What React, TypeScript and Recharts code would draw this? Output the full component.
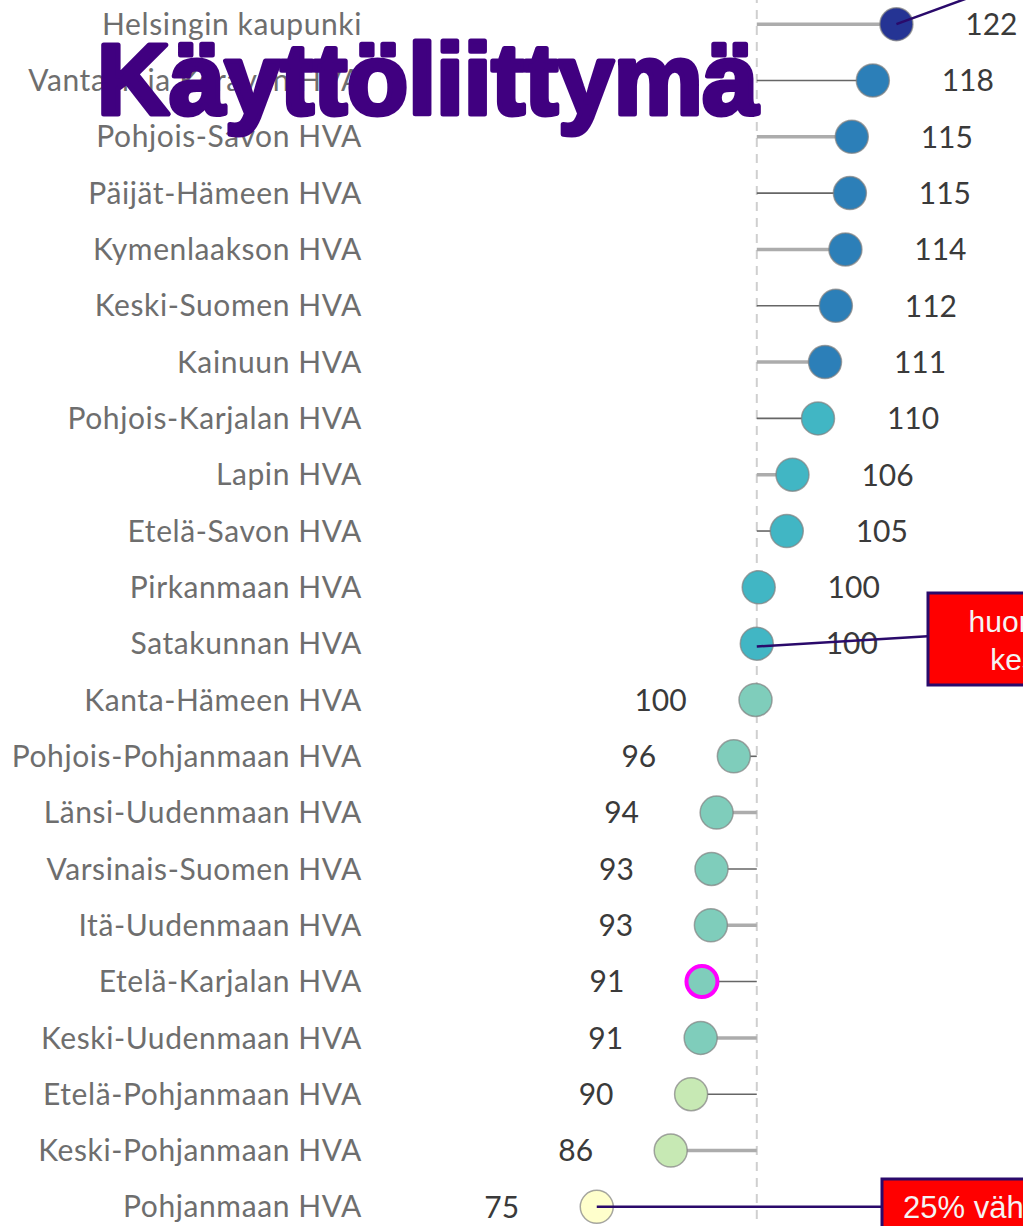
import React from 'react';
import { ScatterChart, Scatter, XAxis, YAxis, ReferenceLine } from 'recharts';

const categories = [
  'Helsingin kaupunki',
  'Vantaan ja Keravan HVA',
  'Pohjois-Savon HVA',
  'Päijät-Hämeen HVA',
  'Kymenlaakson HVA',
  'Keski-Suomen HVA',
  'Kainuun HVA',
  'Pohjois-Karjalan HVA',
  'Lapin HVA',
  'Etelä-Savon HVA',
  'Pirkanmaan HVA',
  'Satakunnan HVA',
  'Kanta-Hämeen HVA',
  'Pohjois-Pohjanmaan HVA',
  'Länsi-Uudenmaan HVA',
  'Varsinais-Suomen HVA',
  'Itä-Uudenmaan HVA',
  'Etelä-Karjalan HVA',
  'Keski-Uudenmaan HVA',
  'Etelä-Pohjanmaan HVA',
  'Keski-Pohjanmaan HVA',
  'Pohjanmaan HVA',
];

const values = [
  121.9, 118.2, 114.9, 114.6, 113.9, 112.4, 110.7, 109.6, 105.6, 104.7, 100.3,
  100.0, 99.8, 96.4, 93.7, 92.9, 92.8, 91.4, 91.2, 89.7, 86.5, 74.9,
];

const valueLabels = [
  122, 118, 115, 115, 114, 112, 111, 110, 106, 105, 100, 100, 100, 96, 94, 93, 93,
  91, 91, 90, 86, 75,
];

const dotColors = [
  '#253494', '#2c7fb8', '#2c7fb8', '#2c7fb8', '#2c7fb8', '#2c7fb8', '#2c7fb8',
  '#41b6c4', '#41b6c4', '#41b6c4', '#41b6c4', '#41b6c4',
  '#7fcdbb', '#7fcdbb', '#7fcdbb', '#7fcdbb', '#7fcdbb', '#7fcdbb', '#7fcdbb',
  '#c7e9b4', '#c7e9b4', '#ffffcc',
];

const highlighted = 'Etelä-Karjalan HVA';
const baseline = 100;

// annotation connector endpoints (data units: value, row index)
const connectorHelsinki = [{ x: 121.9, y: 0 }, { x: 141.7, y: -0.82 }];
const connectorSatakunta = [{ x: 100, y: 11.05 }, { x: 126.8, y: 10.87 }];
const connectorPohjanmaa = [{ x: 74.9, y: 21 }, { x: 119.9, y: 21 }];

const data = categories.map((name, i) => ({
  name,
  idx: i,
  value: values[i],
  label: valueLabels[i],
  color: dotColors[i],
}));

const FONT = 'Lato, "Noto Sans", sans-serif';
const BOXFONT = '"Liberation Sans", Arial, sans-serif';

const DotShape = (props: any) => {
  const { cx, cy, payload } = props;
  const right = payload.value >= baseline;
  const isHi = payload.name === highlighted;
  return (
    <g>
      <circle
        cx={cx}
        cy={cy}
        r={isHi ? 15.5 : 16.5}
        fill={payload.color}
        stroke={isHi ? '#ff00ff' : '#808080'}
        strokeOpacity={isHi ? 1 : 0.7}
        strokeWidth={isHi ? 4 : 1.5}
      />
      <text
        x={cx + (right ? 95 : -95)}
        y={cy}
        dy="0.36em"
        textAnchor="middle"
        fill="#3a3a3a"
        fontSize={30}
        fontFamily={FONT}
      >
        {payload.label}
      </text>
    </g>
  );
};

const ticks = categories.map((_, i) => i);

export default function App() {
  return (
    <div
      style={{
        position: 'absolute',
        left: 0,
        top: 0,
        width: 1023,
        height: 1226,
        overflow: 'hidden',
        background: '#fff',
      }}
    >
      <div style={{ position: 'absolute', left: 0, top: -4 }}>
        <ScatterChart
          width={1100}
          height={1240}
          margin={{ top: 0, right: 0, bottom: 1, left: 0 }}
        >
          <XAxis type="number" dataKey="value" domain={[50, 153.83]} hide allowDataOverflow />
          <YAxis
            type="number"
            dataKey="idx"
            domain={[-0.5, 21.5]}
            reversed
            ticks={ticks}
            interval={0}
            allowDataOverflow
            tickFormatter={(v: number) => categories[v] ?? ''}
            axisLine={false}
            tickLine={false}
            tickSize={0}
            tickMargin={76}
            width={438}
            tick={{ fill: '#6e6e6e', fontSize: 30, fontFamily: FONT, letterSpacing: 0.6 }}
          />
          <ReferenceLine
            x={baseline}
            stroke="#cfcfcf"
            strokeWidth={2}
            strokeDasharray="9 7"
            ifOverflow="visible"
          />
          {data.map((d, i) => (
            <ReferenceLine
              key={d.name}
              segment={[
                { x: baseline, y: d.idx },
                { x: d.value, y: d.idx },
              ]}
              stroke={i % 2 === 0 ? '#acacac' : '#666'}
              strokeWidth={i % 2 === 0 ? 3.5 : 1.6}
              ifOverflow="visible"
            />
          ))}
          <Scatter data={data} isAnimationActive={false} shape={DotShape} />
          {[connectorHelsinki, connectorSatakunta, connectorPohjanmaa].map((seg, i) => (
            <ReferenceLine
              key={'c' + i}
              segment={seg}
              stroke="#2a0a6b"
              strokeWidth={2.5}
              ifOverflow="visible"
              zIndex={2000}
            />
          ))}
        </ScatterChart>
      </div>
      <svg
        width={1023}
        height={1226}
        style={{ position: 'absolute', left: 0, top: 0, pointerEvents: 'none' }}
      >
        <text
          x={97}
          y={114}
          fill="#400080"
          stroke="#400080"
          strokeWidth={5}
          strokeLinejoin="round"
          fontSize={100}
          fontWeight="bold"
          fontFamily={BOXFONT}
        >
          Käyttöliittymä
        </text>
        <g>
          <rect x={928} y={593} width={270} height={92} fill="#ff0000" stroke="#2a0a6b" strokeWidth={3} />
          <text x={1062} y={632} textAnchor="middle" fill="#f4f4f4" fontSize={30} fontFamily={BOXFONT}>
            huomattavasti
          </text>
          <text x={1062} y={670} textAnchor="middle" fill="#f4f4f4" fontSize={30} fontFamily={BOXFONT}>
            keskiarvoa
          </text>
        </g>
        <g>
          <rect x={882} y={1179} width={280} height={80} fill="#ff0000" stroke="#2a0a6b" strokeWidth={3} />
          <text x={903} y={1218} fill="#f4f4f4" fontSize={31} fontFamily={BOXFONT}>
            25% vähemmän
          </text>
        </g>
      </svg>
    </div>
  );
}
